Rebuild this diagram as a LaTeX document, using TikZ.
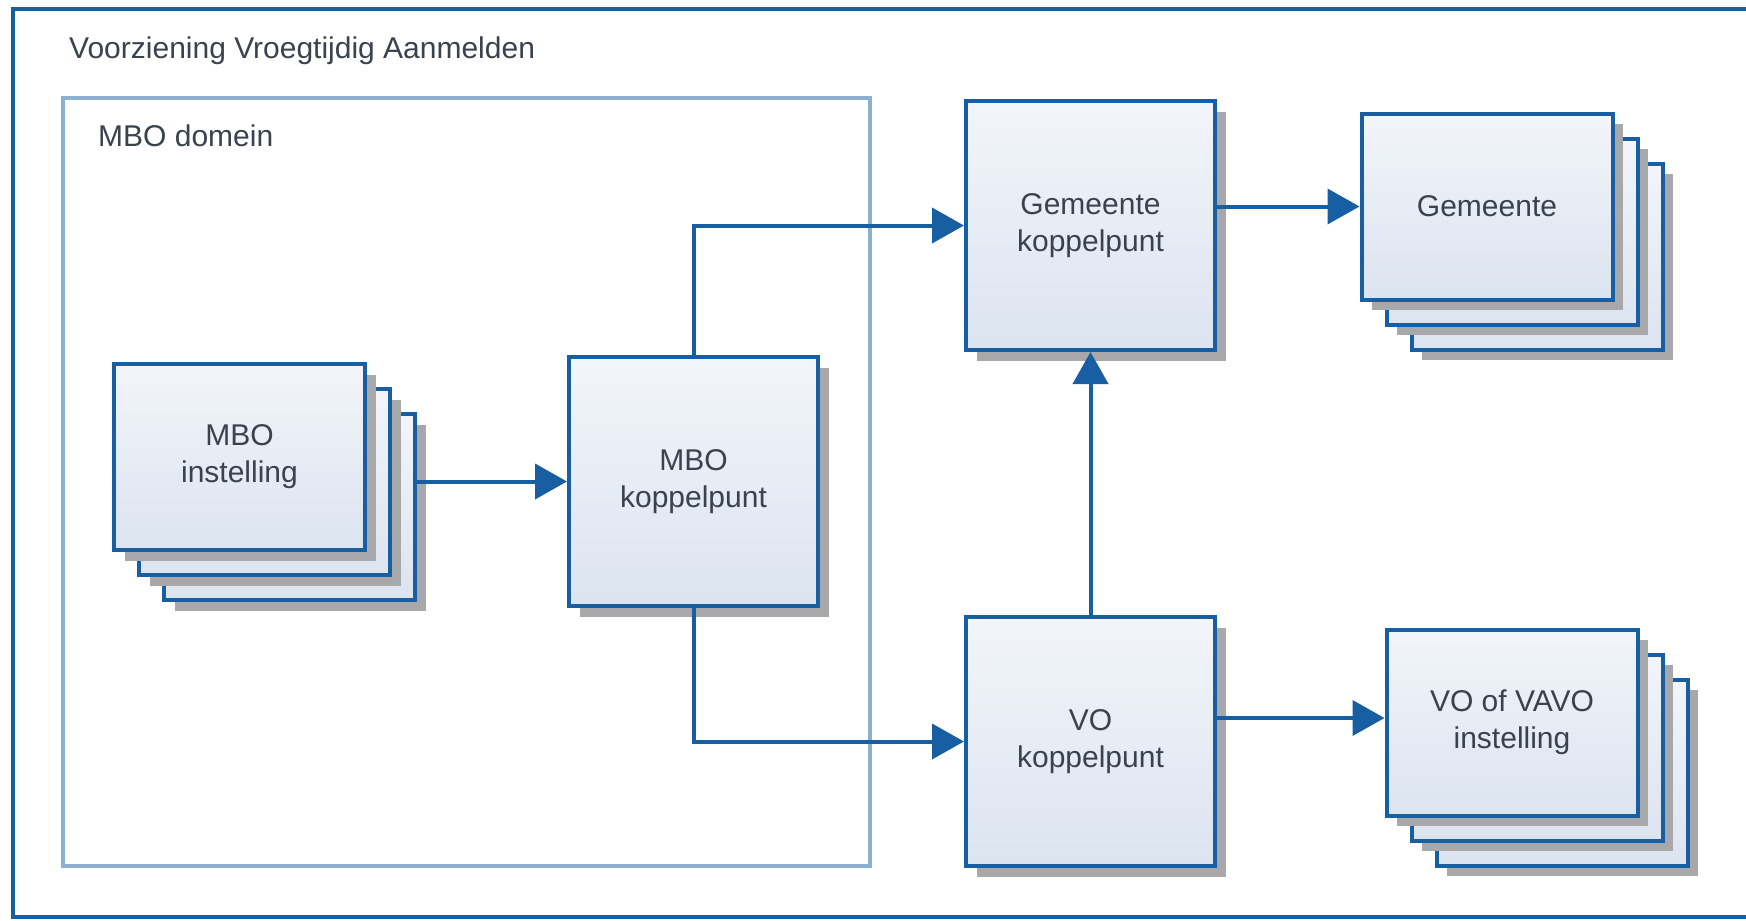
\documentclass[tikz,border=0pt]{standalone}
\usepackage{fontspec}
\setmainfont{Liberation Sans}
\usetikzlibrary{arrows.meta,shadows}
\definecolor{bblue}{RGB}{24,94,162}
\definecolor{dblue}{RGB}{140,176,211}
\definecolor{txt}{RGB}{58,66,78}
\definecolor{shd}{RGB}{168,168,170}
\definecolor{ftop}{RGB}{242,245,250}
\definecolor{fbot}{RGB}{220,228,240}
\begin{document}
\begin{tikzpicture}[x=1pt,y=-1pt,
  box/.style={draw=bblue, line width=4pt, top color=ftop, bottom color=fbot,
    align=center, text=txt, inner sep=0pt,
    font=\fontsize{30}{37}\selectfont,
    drop shadow={shadow xshift=10.5pt, shadow yshift=-10.5pt, fill=shd, opacity=1}},
  card/.style={box, minimum width=251pt, minimum height=186pt},
  hub/.style={box, minimum width=249pt, minimum height=249pt},
  conn/.style={draw=bblue, line width=4pt, -{Triangle[length=32pt,width=35pt]}},
  lbl/.style={anchor=base west, inner sep=0pt, text=txt, font=\fontsize{30}{37}\selectfont}]
\useasboundingbox (0,0) rectangle (1746,921);
\clip (0,0) rectangle (1746,921);
\fill[white] (0,0) rectangle (1746,921);
% outer frame
\draw[draw=bblue, line width=4.5pt] (13,9) rectangle (1800,917);
\node[lbl] (title) at (69,58) {Voorziening Vroegtijdig Aanmelden};
% MBO domain
\draw[draw=dblue, line width=4pt] (63,98) rectangle (870,866);
\node[lbl] (dom) at (98,146) {MBO domein};
% MBO instelling stack
\node[card] (mi3) at (289.5,507) {};
\node[card] (mi2) at (264.5,482) {};
\node[card] (mi)  at (239.5,457) {MBO\\instelling};
% hubs
\node[hub] (mbok) at (693.5,481.5) {MBO\\koppelpunt};
\node[hub] (gk) at (1090.5,225.5) {Gemeente\\koppelpunt};
\node[hub] (vk) at (1090.5,741.5) {VO\\koppelpunt};
% Gemeente stack
\node[card] (gm3) at (1537,256.5) {};
\node[card] (gm2) at (1512,231.5) {};
\node[card] (gm)  at (1487,206.5) {Gemeente};
% VO stack
\node[card] (vo3) at (1562,772.5) {};
\node[card] (vo2) at (1537,747.5) {};
\node[card] (vo)  at (1512,722.5) {VO of VAVO\\instelling};
% connectors
\draw[conn] (mi3.east |- mbok.west) -- (mbok.west);
\draw[conn] (mbok.north) |- (gk.west);
\draw[conn] (mbok.south) |- (vk.west);
\draw[conn] (vk.north) -- (gk.south);
\draw[conn] (gk.east |- gm.west) -- (gm.west);
\coordinate (voin) at ([yshift=4.5pt]vo.west);
\draw[conn] (vk.east |- voin) -- (voin);
\end{tikzpicture}
\end{document}
